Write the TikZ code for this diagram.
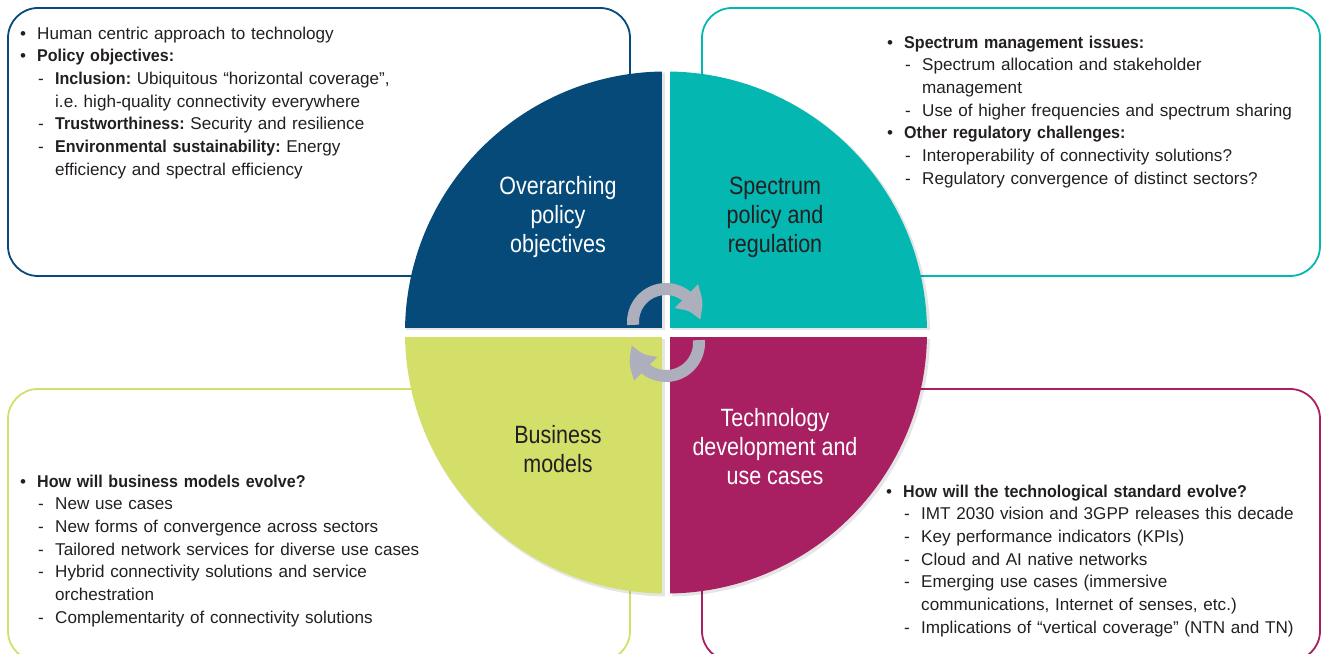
\documentclass[tikz,border=0pt]{standalone}
\usepackage{fontspec}
\setmainfont{Liberation Sans}[BoldFeatures={FakeStretch=0.94}]
\newfontfamily\labfont{Liberation Sans}[FakeStretch=0.86]
\usetikzlibrary{arrows.meta,bending}
\definecolor{cblue}{RGB}{6,74,122}
\definecolor{cteal}{RGB}{4,183,177}
\definecolor{cyel}{RGB}{212,223,106}
\definecolor{cmag}{RGB}{168,31,98}
\definecolor{carrow}{RGB}{173,175,189}
\definecolor{ctext}{RGB}{35,31,32}
\newcommand{\bitem}[1]{\strut\makebox[17pt][l]{•}#1}
\newcommand{\ditem}[1]{\strut\hspace*{18pt}\makebox[17pt][l]{-}#1}
\newcommand{\contline}[1]{\strut\hspace*{35pt}#1}
\frenchspacing
\begin{document}
\begin{tikzpicture}[x=1pt,y=1pt,
  boxline/.style={line width=1.8pt, rounded corners=30pt},
  listtext/.style={anchor=north west, inner sep=0pt, text width=460pt, align=left,
    font=\frenchspacing\fontsize{17.1}{22.7}\selectfont, text=ctext},
  lab/.style={align=center, inner sep=0pt, font=\labfont\fontsize{25}{29}\selectfont},
  shade/.style={fill=black, opacity=0.10},
  cyc/.style={draw=carrow, line width=12pt, -{Triangle[length=28pt,width=31pt,bend]}}]
\useasboundingbox (0,0) rectangle (1322,653);
% outline boxes
\draw[boxline, draw=cblue] (8,377) rectangle (630,645);
\draw[boxline, draw=cteal] (702,377) rectangle (1320,645);
\draw[boxline, draw=cyel] (8,-8) rectangle (630,264);
\draw[boxline, draw=cmag] (702,-8) rectangle (1320,264);
% quadrant shadows
\begin{scope}
\clip (668,318.5) circle (262pt);
\fill[shade] (402,323) rectangle (665,590);
\fill[shade] (672,323) rectangle (935,590);
\fill[shade] (402,314) rectangle (665,50);
\fill[shade] (672,314) rectangle (935,50);
\end{scope}
% quadrants
\begin{scope}
\clip (666,320.5) circle (261pt);
\fill[cblue] (400,325) rectangle (662,590);
\fill[cteal] (670,325) rectangle (932,590);
\fill[cyel] (400,316) rectangle (662,50);
\fill[cmag] (670,316) rectangle (932,50);
\end{scope}
% labels
\node[lab, text=white] (obj) at (558,435) {\strut Overarching\\\strut policy\\\strut objectives};
\node[lab, text=ctext] (spec) at (775,435) {\strut Spectrum\\\strut policy and\\\strut regulation};
\node[lab, text=ctext] (bus) at (558,201) {\strut Business\\\strut models};
\node[lab, text=white] (tech) at (775,203) {\strut Technology\\\strut development and\\\strut use cases};
% cycle arrows
\coordinate (ctop) at (666,331);
\coordinate (cbot) at (666,310);
\draw[cyc] ([shift={(185:33pt)}]ctop) arc[start angle=185, end angle=3, radius=33pt];
\draw[cyc] ([shift={(5:33pt)}]cbot) arc[start angle=5, end angle=-177, radius=33pt];
% texts
\node[listtext] (tl) at (20,629.9) {%
\bitem{Human centric approach to technology}\\
\bitem{\textbf{Policy objectives:}}\\
\ditem{\textbf{Inclusion:} Ubiquitous “horizontal coverage”,}\\
\contline{i.e. high-quality connectivity everywhere}\\
\ditem{\textbf{Trustworthiness:} Security and resilience}\\
\ditem{\textbf{Environmental sustainability:} Energy}\\
\contline{efficiency and spectral efficiency}};
\node[listtext] (tr) at (887,620.9) {%
\bitem{\textbf{Spectrum management issues:}}\\
\ditem{Spectrum allocation and stakeholder}\\
\contline{management}\\
\ditem{Use of higher frequencies and spectrum sharing}\\
\bitem{\textbf{Other regulatory challenges:}}\\
\ditem{Interoperability of connectivity solutions?}\\
\ditem{Regulatory convergence of distinct sectors?}};
\node[listtext] (bl) at (20,181.9) {%
\bitem{\textbf{How will business models evolve?}}\\
\ditem{New use cases}\\
\ditem{New forms of convergence across sectors}\\
\ditem{Tailored network services for diverse use cases}\\
\ditem{Hybrid connectivity solutions and service}\\
\contline{orchestration}\\
\ditem{Complementarity of connectivity solutions}};
\node[listtext] (br) at (886,171.9) {%
\bitem{\textbf{How will the technological standard evolve?}}\\
\ditem{IMT 2030 vision and 3GPP releases this decade}\\
\ditem{Key performance indicators (KPIs)}\\
\ditem{Cloud and AI native networks}\\
\ditem{Emerging use cases (immersive}\\
\contline{communications, Internet of senses, etc.)}\\
\ditem{Implications of “vertical coverage” (NTN and TN)}};
\end{tikzpicture}
\end{document}
